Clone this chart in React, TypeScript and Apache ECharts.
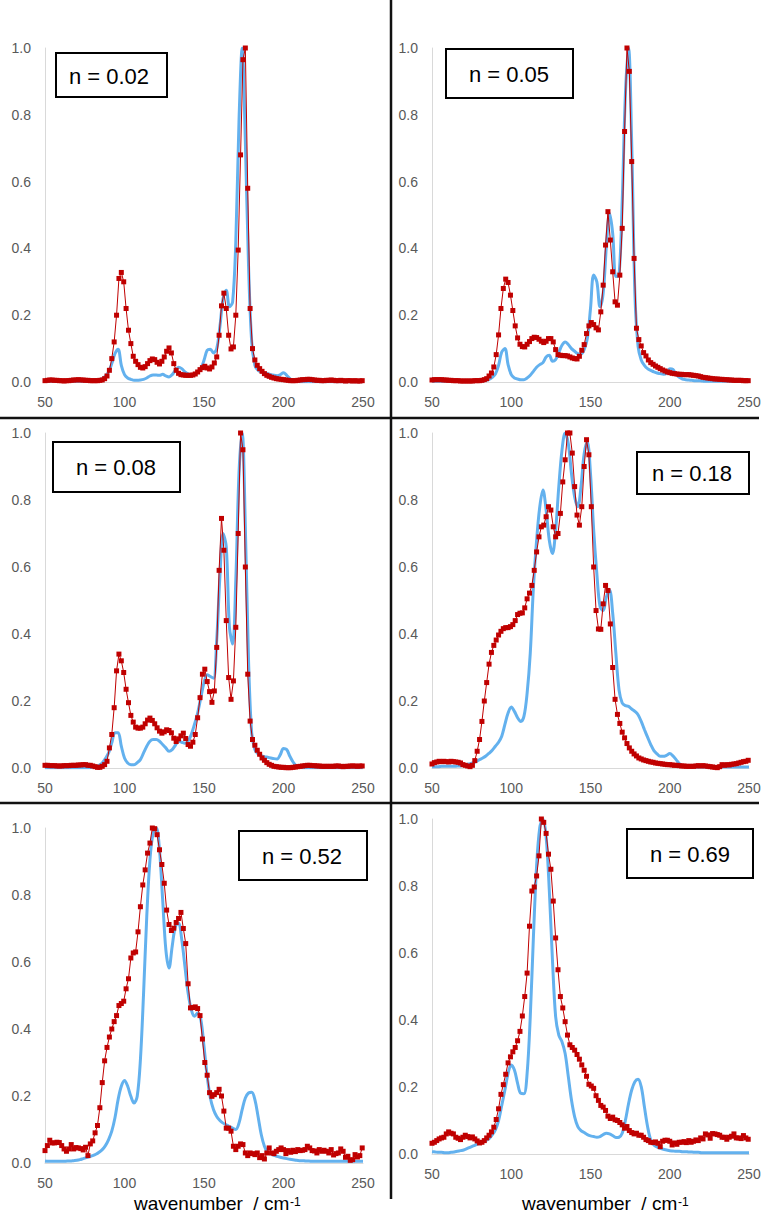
import React, { useEffect, useRef } from "react";
import * as echarts from "echarts";

const RED_X0 = 50;
const RED_STEP = 1.5;
const BLUE_X0 = 50;
const BLUE_STEP = 2;

const LABELS = ["n = 0.02", "n = 0.05", "n = 0.08", "n = 0.18", "n = 0.52", "n = 0.69"];

const RED_1 = [
  0.004,0.005,0.006,0.006,0.005,0.005,0.004,0.004,0.003,0.004,
  0.004,0.005,0.006,0.006,0.007,0.006,0.006,0.005,0.005,0.004,
  0.004,0.004,0.004,0.005,0.006,0.01,0.018,0.035,0.07,0.12,
  0.2,0.31,0.328,0.3,0.22,0.155,0.115,0.077,0.062,0.052,
  0.044,0.042,0.046,0.055,0.064,0.069,0.067,0.059,0.054,0.062,
  0.075,0.092,0.102,0.087,0.055,0.035,0.026,0.022,0.021,0.02,
  0.02,0.02,0.021,0.024,0.03,0.037,0.043,0.047,0.042,0.039,
  0.045,0.057,0.075,0.14,0.228,0.266,0.22,0.14,0.099,0.105,
  0.2,0.395,0.68,0.965,1.0,0.58,0.22,0.1,0.066,0.05,
  0.04,0.032,0.025,0.02,0.017,0.014,0.012,0.01,0.009,0.008,
  0.007,0.006,0.005,0.004,0.004,0.004,0.005,0.006,0.007,0.007,
  0.008,0.008,0.007,0.006,0.005,0.005,0.004,0.004,0.005,0.005,
  0.006,0.005,0.004,0.004,0.005,0.004,0.003,0.004,0.004,0.003,
  0.004,0.003,0.003,0.004,
];
const BLUE_1 = [
  0.002,0.002,0.002,0.002,0.002,0.002,0.002,0.002,0.002,0.002,
  0.002,0.002,0.002,0.002,0.002,0.002,0.002,0.005,
  0.01,0.018,0.03,0.055,0.085,0.098,0.05,0.022,0.012,0.008,
  0.005,0.005,0.006,0.008,0.012,0.018,0.021,0.021,0.02,0.023,
  0.018,0.015,0.022,0.035,0.044,0.04,0.03,0.024,0.022,0.023,
  0.03,0.04,0.065,0.095,0.098,0.087,0.1,0.166,0.25,0.275,
  0.225,0.24,0.42,0.78,1.0,0.72,0.35,0.12,0.05,0.035,
  0.03,0.027,0.025,0.022,0.02,0.019,0.022,0.028,0.02,0.01,
  0.004,0.002,
  0.001,0.001,0.001,0.001,0.001,0.001,0.001,0.001,0.001,0.001,
  0.001,0.001,0.001,0.001,0.001,0.001,0.001,0.001,0.001,0.001,0.001,
];

const RED_2 = [
  0.006,0.007,0.007,0.007,0.007,0.006,0.006,0.005,0.005,0.004,
  0.004,0.004,0.003,0.003,0.003,0.003,0.003,0.003,0.004,0.004,
  0.004,0.005,0.007,0.01,0.018,0.027,0.045,0.082,0.141,0.22,
  0.28,0.308,0.298,0.26,0.214,0.168,0.132,0.113,0.106,0.105,
  0.113,0.121,0.13,0.134,0.133,0.128,0.122,0.118,0.122,0.13,
  0.13,0.12,0.097,0.082,0.08,0.079,0.079,0.078,0.075,0.072,
  0.07,0.069,0.077,0.095,0.112,0.145,0.168,0.178,0.172,0.162,
  0.156,0.21,0.29,0.41,0.51,0.425,0.33,0.24,0.23,0.32,
  0.46,0.75,1.0,0.93,0.66,0.37,0.161,0.127,0.108,0.088,
  0.078,0.066,0.058,0.053,0.048,0.044,0.04,0.036,0.033,0.03,
  0.028,0.026,0.025,0.024,0.023,0.023,0.022,0.022,0.022,0.021,
  0.02,0.019,0.018,0.016,0.014,0.013,0.012,0.011,0.01,0.009,
  0.009,0.008,0.008,0.007,0.007,0.006,0.006,0.005,0.005,0.005,
  0.005,0.004,0.004,0.004,
];
const BLUE_2 = [
  0.002,0.002,0.002,0.002,0.002,0.002,0.002,0.002,0.002,0.002,
  0.002,0.002,0.002,0.002,0.002,0.002,0.003,0.005,
  0.008,0.014,0.024,0.05,0.09,0.1,0.052,0.022,0.012,0.009,
  0.007,0.007,0.012,0.02,0.032,0.044,0.052,0.058,0.075,0.08,
  0.062,0.067,0.088,0.11,0.12,0.112,0.1,0.092,0.085,0.084,
  0.097,0.13,0.22,0.32,0.3,0.225,0.266,0.405,0.505,0.445,
  0.316,0.32,0.54,0.86,1.0,0.714,0.266,0.107,0.066,0.05,
  0.04,0.035,0.03,0.027,0.025,0.023,0.026,0.04,0.038,0.022,
  0.014,0.009,0.007,0.006,0.005,0.004,0.004,0.003,
  0.002,0.002,0.002,0.002,0.002,0.002,0.002,0.002,0.002,0.002,
  0.002,0.002,0.002,0.002,0.002,
];

const RED_3 = [
  0.008,0.008,0.007,0.007,0.007,0.006,0.006,0.006,0.007,0.007,
  0.007,0.008,0.008,0.008,0.009,0.009,0.01,0.01,0.008,0.008,
  0.006,0.004,0.002,0.002,0.005,0.01,0.02,0.06,0.1,0.18,
  0.29,0.34,0.32,0.285,0.235,0.195,0.157,0.137,0.122,0.119,
  0.119,0.122,0.132,0.143,0.149,0.142,0.132,0.12,0.11,0.104,
  0.108,0.114,0.112,0.105,0.089,0.079,0.087,0.096,0.104,0.088,
  0.07,0.065,0.077,0.1,0.15,0.21,0.28,0.295,0.258,0.228,
  0.196,0.23,0.36,0.59,0.745,0.65,0.44,0.27,0.205,0.26,
  0.42,0.7,1.0,0.95,0.6,0.28,0.14,0.085,0.068,0.053,
  0.041,0.03,0.023,0.016,0.011,0.008,0.005,0.004,0.003,0.002,
  0.002,0.001,0.001,0.001,0.002,0.003,0.004,0.005,0.006,0.007,
  0.008,0.008,0.007,0.007,0.006,0.006,0.005,0.005,0.005,0.005,
  0.005,0.005,0.006,0.006,0.005,0.004,0.005,0.005,0.006,0.006,
  0.006,0.005,0.006,0.006,
];
const BLUE_3 = [
  0.001,0.001,0.001,0.001,0.001,0.001,0.001,0.001,0.001,0.001,
  0.001,0.001,0.001,0.001,0.001,0.002,0.004,0.008,
  0.015,0.028,0.045,0.075,0.105,0.105,0.065,0.03,0.015,0.01,
  0.01,0.016,0.025,0.045,0.065,0.08,0.085,0.085,0.08,0.07,
  0.06,0.05,0.055,0.068,0.08,0.077,0.074,0.08,0.1,0.13,
  0.164,0.21,0.255,0.278,0.273,0.268,0.382,0.571,0.7,0.66,
  0.42,0.37,0.56,0.88,1.0,0.72,0.323,0.104,0.055,0.042,
  0.037,0.034,0.032,0.03,0.028,0.027,0.04,0.058,0.055,0.035,
  0.018,0.007,0.002,
  0.001,0.001,0.001,0.001,0.001,0.001,0.001,0.001,0.001,0.001,
  0.001,0.001,0.001,0.001,0.001,0.001,0.001,0.001,0.001,0.001,
];

const RED_4 = [
  0.012,0.016,0.018,0.02,0.019,0.02,0.019,0.018,0.02,0.019,
  0.018,0.017,0.015,0.01,0.008,0.006,0.004,0.008,0.022,0.05,
  0.085,0.139,0.2,0.255,0.31,0.345,0.366,0.382,0.397,0.408,
  0.416,0.419,0.419,0.422,0.428,0.44,0.458,0.462,0.463,0.478,
  0.505,0.522,0.545,0.59,0.645,0.69,0.72,0.725,0.75,0.78,
  0.77,0.72,0.69,0.7,0.76,0.854,0.92,1.0,1.0,0.94,
  0.84,0.755,0.725,0.78,0.9,0.98,0.935,0.78,0.6,0.47,
  0.415,0.414,0.49,0.545,0.53,0.43,0.3,0.205,0.16,0.133,
  0.107,0.09,0.073,0.06,0.05,0.042,0.036,0.03,0.027,0.024,
  0.022,0.02,0.018,0.017,0.015,0.014,0.013,0.012,0.011,0.01,
  0.01,0.009,0.008,0.008,0.007,0.006,0.006,0.005,0.005,0.005,
  0.005,0.006,0.007,0.006,0.007,0.006,0.005,0.004,0.003,0.002,
  0.001,0.004,0.01,0.008,0.01,0.009,0.011,0.012,0.013,0.015,
  0.017,0.019,0.02,0.023,
];
const BLUE_4 = [
  0.004,0.004,0.004,0.005,0.005,0.005,0.005,0.005,0.006,0.006,
  0.008,0.01,0.013,0.016,0.02,0.025,0.03,0.036,0.044,0.053,
  0.065,0.077,0.095,0.13,0.164,0.182,0.169,0.15,0.139,0.154,
  0.223,0.343,0.541,0.68,0.78,0.83,0.77,0.68,0.64,0.71,
  0.84,0.948,1.0,0.968,0.879,0.809,0.78,0.84,0.938,0.973,
  0.879,0.71,0.58,0.482,0.47,0.51,0.531,0.462,0.343,0.233,
  0.194,0.186,0.184,0.176,0.169,0.159,0.139,0.115,0.092,0.07,
  0.052,0.042,0.035,0.035,0.038,0.043,0.036,0.025,0.013,0.008,
  0.005,
  0.003,0.003,0.003,0.003,0.003,0.003,0.003,0.003,0.003,0.003,
  0.003,0.003,0.003,0.003,0.003,0.003,0.003,0.003,0.003,0.003,
];

const RED_5 = [
  0.037,0.052,0.068,0.06,0.06,0.062,0.061,0.052,0.042,0.035,
  0.042,0.055,0.042,0.046,0.045,0.043,0.039,0.047,0.022,0.057,
  0.066,0.09,0.112,0.165,0.24,0.305,0.345,0.376,0.4,0.422,
  0.44,0.47,0.476,0.483,0.52,0.55,0.612,0.627,0.63,0.69,
  0.765,0.83,0.875,0.925,0.955,1.0,0.998,0.98,0.935,0.891,
  0.835,0.755,0.712,0.694,0.701,0.718,0.73,0.748,0.7,0.655,
  0.535,0.463,0.464,0.466,0.461,0.44,0.37,0.3,0.262,0.21,
  0.199,0.204,0.21,0.22,0.2,0.155,0.104,0.104,0.095,0.05,
  0.04,0.05,0.057,0.055,0.03,0.022,0.03,0.028,0.025,0.03,
  0.016,0.022,0.012,0.03,0.045,0.03,0.028,0.035,0.04,0.045,
  0.04,0.028,0.037,0.032,0.038,0.034,0.04,0.037,0.038,0.04,
  0.05,0.045,0.037,0.036,0.03,0.04,0.035,0.038,0.035,0.03,
  0.04,0.024,0.028,0.03,0.042,0.035,0.017,0.02,0.008,0.01,
  0.025,0.018,0.022,0.045,
];
const BLUE_5 = [
  0.006,0.005,0.005,0.005,0.005,0.005,0.005,0.006,0.006,0.007,
  0.008,0.01,0.013,0.016,0.019,0.022,0.026,0.032,0.04,0.052,
  0.07,0.095,0.135,0.19,0.229,0.246,0.229,0.199,0.179,0.199,
  0.308,0.507,0.736,0.905,0.985,1.0,0.935,0.786,0.637,0.582,
  0.647,0.706,0.716,0.667,0.587,0.507,0.458,0.438,0.448,0.428,
  0.348,0.259,0.194,0.159,0.139,0.127,0.119,0.114,0.109,0.104,
  0.1,0.119,0.159,0.194,0.209,0.211,0.189,0.139,0.085,0.05,
  0.032,0.027,0.023,0.02,0.017,0.015,0.013,0.011,0.01,0.008,
  0.007,0.007,0.006,0.006,0.005,
  0.005,0.005,0.005,0.005,0.005,0.005,0.005,0.005,0.005,0.005,
  0.005,0.005,0.005,0.005,0.005,0.005,
];

const RED_6 = [
  0.032,0.035,0.04,0.045,0.048,0.05,0.06,0.066,0.062,0.06,
  0.05,0.047,0.043,0.05,0.056,0.052,0.048,0.051,0.045,0.039,
  0.033,0.035,0.04,0.048,0.056,0.066,0.08,0.103,0.135,0.178,
  0.207,0.238,0.272,0.29,0.305,0.318,0.338,0.366,0.412,0.47,
  0.54,0.68,0.785,0.797,0.83,0.89,1.0,0.99,0.957,0.895,
  0.85,0.755,0.645,0.55,0.47,0.436,0.395,0.355,0.326,0.318,
  0.31,0.297,0.283,0.266,0.25,0.232,0.208,0.203,0.196,0.174,
  0.16,0.145,0.14,0.13,0.113,0.106,0.11,0.102,0.1,0.094,
  0.087,0.077,0.082,0.07,0.064,0.06,0.062,0.056,0.056,0.05,
  0.043,0.04,0.035,0.034,0.036,0.032,0.022,0.038,0.041,0.041,
  0.038,0.027,0.033,0.029,0.035,0.035,0.037,0.034,0.04,0.035,
  0.038,0.042,0.04,0.048,0.045,0.06,0.057,0.047,0.061,0.06,
  0.058,0.056,0.05,0.05,0.044,0.05,0.053,0.06,0.048,0.048,
  0.046,0.055,0.048,0.044,
];
const BLUE_6 = [
  0.007,0.006,0.005,0.005,0.004,0.004,0.005,0.006,0.008,0.01,
  0.012,0.016,0.02,0.024,0.028,0.032,0.036,0.04,0.046,0.057,
  0.072,0.1,0.145,0.191,0.241,0.266,0.251,0.211,0.181,0.18,
  0.24,0.41,0.65,0.86,0.975,1.0,0.947,0.788,0.579,0.41,
  0.355,0.335,0.3,0.231,0.161,0.111,0.082,0.07,0.064,0.058,
  0.054,0.052,0.05,0.052,0.058,0.062,0.06,0.055,0.049,0.05,
  0.062,0.1,0.15,0.191,0.216,0.223,0.201,0.141,0.082,0.042,
  0.027,0.021,0.017,0.014,0.012,0.01,0.009,0.008,0.008,0.007,
  0.007,0.006,0.006,0.005,0.005,
  0.004,0.004,0.004,0.004,0.004,0.004,0.004,0.004,0.004,0.004,
  0.004,0.004,0.004,0.004,0.004,0.004,
];

const REDS = [RED_1, RED_2, RED_3, RED_4, RED_5, RED_6];
const BLUES = [BLUE_1, BLUE_2, BLUE_3, BLUE_4, BLUE_5, BLUE_6];

const GRIDS = [
  { left: 45, top: 48, width: 318, height: 334 },
  { left: 432, top: 48, width: 317, height: 334 },
  { left: 45, top: 433, width: 318, height: 335 },
  { left: 432, top: 433, width: 317, height: 335 },
  { left: 45, top: 828, width: 318, height: 335 },
  { left: 432, top: 819, width: 317, height: 335 },
];

const BOXES = [
  { x: 56, y: 53, w: 111, h: 44, tx: 109, ty: 76 },
  { x: 446, y: 49, w: 127, h: 49, tx: 509, ty: 74 },
  { x: 53, y: 442, w: 127, h: 50, tx: 116, ty: 467 },
  { x: 637, y: 452, w: 112, h: 42, tx: 692, ty: 473 },
  { x: 239, y: 831, w: 128, h: 49, tx: 302, ty: 856 },
  { x: 627, y: 829, w: 126, h: 49, tx: 690, ty: 854 },
];

const FONT = '"Liberation Sans", Arial, sans-serif';
const BLUE_COLOR = "#63b1ee";
const RED_COLOR = "#c00000";

export default function App() {
  const ref = useRef<HTMLDivElement>(null);

  useEffect(() => {
    document.body.style.margin = "0";
    if (!ref.current) return;
    const chart = echarts.init(ref.current, undefined, { renderer: "svg" });

    const grid = GRIDS.map((g) => ({ ...g, containLabel: false }));
    const xAxis = GRIDS.map((_, i) => ({
      type: "value",
      gridIndex: i,
      min: 50,
      max: 250,
      interval: 50,
      axisLine: { show: true, lineStyle: { color: "#d9d9d9", width: 1 } },
      axisTick: { show: false },
      splitLine: { show: false },
      axisLabel: { color: "#595959", fontSize: 14, fontFamily: FONT, margin: 13 },
    }));
    const yAxis = GRIDS.map((_, i) => ({
      type: "value",
      gridIndex: i,
      min: 0,
      max: 1,
      interval: 0.2,
      axisLine: { show: true, lineStyle: { color: "#d9d9d9", width: 1 } },
      axisTick: { show: false },
      splitLine: { show: false },
      axisLabel: {
        color: "#595959",
        fontSize: 14,
        fontFamily: FONT,
        margin: 14,
        formatter: (v: number) => v.toFixed(1),
      },
    }));

    const series: any[] = [];
    for (let i = 0; i < 6; i++) {
      series.push({
        type: "line",
        xAxisIndex: i,
        yAxisIndex: i,
        data: BLUES[i].map((y, k) => [BLUE_X0 + k * BLUE_STEP, y]),
        smooth: 0.35,
        showSymbol: false,
        symbol: "none",
        lineStyle: { color: BLUE_COLOR, width: 3 },
        z: 2,
      });
      series.push({
        type: "line",
        xAxisIndex: i,
        yAxisIndex: i,
        data: REDS[i].map((y, k) => [RED_X0 + k * RED_STEP, y]),
        symbol: "rect",
        symbolSize: 5,
        showSymbol: true,
        itemStyle: { color: RED_COLOR },
        lineStyle: { color: RED_COLOR, width: 1 },
        z: 3,
      });
    }

    const graphic: any[] = [];
    graphic.push({
      type: "line",
      shape: { x1: 391, y1: 0, x2: 391, y2: 1199 },
      style: { stroke: "#111", lineWidth: 2.5 },
      z: 100,
    });
    graphic.push({
      type: "line",
      shape: { x1: 0, y1: 418, x2: 759, y2: 418 },
      style: { stroke: "#111", lineWidth: 2.5 },
      z: 100,
    });
    graphic.push({
      type: "line",
      shape: { x1: 0, y1: 803, x2: 759, y2: 803 },
      style: { stroke: "#111", lineWidth: 2.5 },
      z: 100,
    });
    BOXES.forEach((b, i) => {
      graphic.push({
        type: "rect",
        shape: { x: b.x, y: b.y, width: b.w, height: b.h },
        style: { fill: "#fff", stroke: "#000", lineWidth: 2 },
        z: 100,
      });
      graphic.push({
        type: "text",
        x: b.tx,
        y: b.ty,
        style: {
          text: LABELS[i],
          fontSize: 22,
          fontFamily: FONT,
          fill: "#000",
          align: "center",
          verticalAlign: "middle",
        },
        z: 101,
      });
    });
    const xl = [134, 522];
    xl.forEach((x) => {
      graphic.push({
        type: "text",
        x: x,
        y: 1203,
        style: {
          text: "wavenumber  / cm",
          fontSize: 19,
          fontFamily: FONT,
          fill: "#000",
          align: "left",
          verticalAlign: "middle",
        },
        z: 101,
      });
      graphic.push({
        type: "text",
        x: x + 156,
        y: 1202,
        style: {
          text: "-1",
          fontSize: 12,
          fontFamily: FONT,
          fill: "#000",
          align: "left",
          verticalAlign: "middle",
        },
        z: 101,
      });
    });

    chart.setOption({
      animation: false,
      backgroundColor: "#fff",
      grid,
      xAxis,
      yAxis,
      series,
      graphic,
    });

    return () => {
      chart.dispose();
    };
  }, []);

  return <div ref={ref} style={{ width: 776, height: 1227 }} />;
}
